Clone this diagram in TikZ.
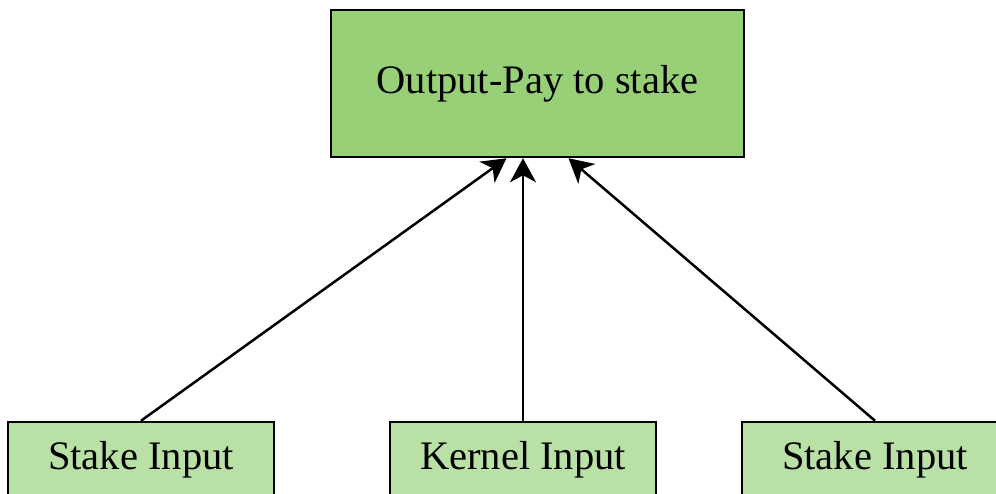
\documentclass[tikz,border=0pt]{standalone}
\usepackage{fontspec}
\setmainfont{Liberation Serif}
\usetikzlibrary{arrows.meta,positioning}
\definecolor{outgreen}{HTML}{97D077}
\definecolor{ingreen}{HTML}{B9E0A5}
\tikzset{
  >={Stealth[length=24pt,width=26pt,inset=7pt]},
  outbox/.style={draw, line width=2.5pt, fill=outgreen, minimum width=413pt, minimum height=147pt,
                 font=\fontsize{40.5}{48}\selectfont},
  inbox/.style ={draw, line width=2.5pt, fill=ingreen, minimum width=266pt, minimum height=76pt,
                 font=\fontsize{40.5}{48}\selectfont},
  feed/.style  ={->, line width=2.5pt}
}
\begin{document}
\begin{tikzpicture}[x=1pt,y=-1pt]
\useasboundingbox (0,0) rectangle (996,493);
\node[outbox] (out) at (537.5,83.5) {\raisebox{-3pt}{Output-Pay to stake}};
\node[inbox] (stake1) at (141,460) {Stake Input};
\node[inbox] (kernel) at (523,460) {Kernel Input};
\node[inbox] (stake2) at (875,460) {Stake Input};
\draw[feed] (stake1.north) -- ([xshift=-31pt]out.south);
\draw[feed] (kernel.north) -- (kernel.north |- out.south);
\draw[feed] (stake2.north) -- ([xshift=31pt]out.south);
\end{tikzpicture}
\end{document}
